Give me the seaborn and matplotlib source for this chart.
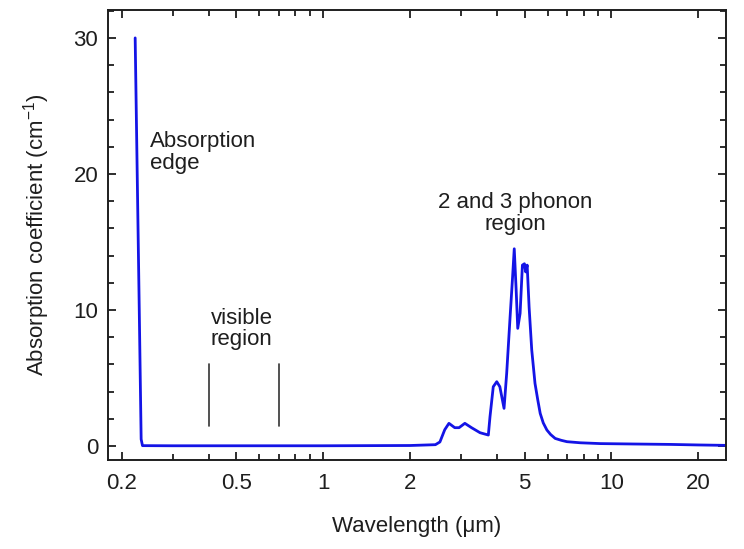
# ==============================
# Absorption coefficient vs wavelength
# ==============================
import numpy as np
import pandas as pd
import matplotlib
matplotlib.use("Agg")
import matplotlib.pyplot as plt
import matplotlib.ticker as mticker
import seaborn as sns

# ------------------------------
# Data
# ------------------------------
wavelength = [0.2226, 0.2300, 0.2335, 0.2360, 0.30, 0.5, 1.0, 2.0, 2.45, 2.54,
              2.64, 2.73, 2.86, 2.96, 3.10, 3.27, 3.50, 3.74, 3.79, 3.89,
              4.00, 4.10, 4.24, 4.33, 4.45, 4.54, 4.60, 4.67, 4.73, 4.82,
              4.91, 4.99, 5.04, 5.10, 5.18, 5.29, 5.43, 5.55, 5.66, 5.80,
              5.97, 6.15, 6.38, 6.70, 7.01, 7.80, 9.16, 12.0, 16.0, 20.0,
              25.0]
absorption = [30.0, 10.0, 0.5, 0.03, 0.02, 0.02, 0.02, 0.04, 0.1, 0.3,
              1.2, 1.67, 1.35, 1.35, 1.67, 1.35, 0.98, 0.81, 2.16, 4.36,
              4.73, 4.36, 2.77, 5.34, 9.5, 12.45, 14.5, 11.5, 8.65, 9.75,
              13.3, 13.4, 12.8, 13.3, 10.2, 7.06, 4.6, 3.4, 2.4, 1.7,
              1.18, 0.85, 0.56, 0.42, 0.32, 0.24, 0.18, 0.15, 0.12, 0.08,
              0.05]

df = pd.DataFrame({"wavelength": wavelength, "absorption": absorption})

major_xticks = [0.2, 0.5, 1, 2, 5, 10, 20]
major_xlabels = ["0.2", "0.5", "1", "2", "5", "10", "20"]
yticks = [0, 10, 20, 30]

# visible region markers (0.4 and 0.7 um)
visible_edges = [0.4, 0.7]

# ------------------------------
# Style
# ------------------------------
sns.set_theme(style="ticks")
plt.rcParams["font.family"] = ["Liberation Sans", "DejaVu Sans"]
plt.rcParams["mathtext.fontset"] = "custom"
plt.rcParams["mathtext.rm"] = "Liberation Sans"
plt.rcParams["mathtext.it"] = "Liberation Sans:italic"
text_color = "#1e1e1e"
fs = 16

fig = plt.figure(figsize=(7.44, 5.49), dpi=100)
ax = fig.add_axes([0.145, 0.162, 0.831, 0.820])

sns.lineplot(data=df, x="wavelength", y="absorption", ax=ax,
             color="#1414e6", linewidth=2.0, estimator=None, sort=False)

ax.set_xscale("log")
ax.set_xlim(0.179, 25)
ax.set_ylim(-1.03, 32.06)

ax.xaxis.set_major_locator(mticker.FixedLocator(major_xticks))
ax.xaxis.set_major_formatter(mticker.FixedFormatter(major_xlabels))
ax.xaxis.set_minor_locator(mticker.LogLocator(base=10, subs=np.arange(2, 10)))
ax.xaxis.set_minor_formatter(mticker.NullFormatter())
ax.yaxis.set_major_locator(mticker.FixedLocator(yticks))
ax.yaxis.set_minor_locator(mticker.MultipleLocator(2))

ax.tick_params(which="both", direction="in", top=True, right=True,
               color=text_color, width=1.3)
ax.tick_params(which="major", length=6, labelsize=fs, labelcolor=text_color)
ax.tick_params(axis="x", which="major", pad=9)
ax.tick_params(axis="y", which="major", pad=7)
ax.tick_params(which="minor", length=4)

for spine in ax.spines.values():
    spine.set_linewidth(1.4)
    spine.set_color(text_color)

ax.set_xlabel("Wavelength (\u03bcm)", fontsize=fs, color=text_color)
ax.set_ylabel("Absorption coefficient (cm$^{-1}$)", fontsize=fs,
              color=text_color)
ax.xaxis.set_label_coords(0.5, -0.124)
ax.yaxis.set_label_coords(-0.09, 0.5)

# visible region markers
for w in visible_edges:
    ax.plot([w, w], [1.5, 6.0], color="#333333", linewidth=1.2)

# annotations
ax.text(0.251, 21.6, "Absorption\nedge", fontsize=fs, color=text_color,
        ha="left", va="center", linespacing=1.05)
ax.text(0.522, 8.6, "visible\nregion", fontsize=fs, color=text_color,
        ha="center", va="center", linespacing=1.05)
ax.text(4.65, 17.1, "2 and 3 phonon\nregion", fontsize=fs, color=text_color,
        ha="center", va="center", linespacing=1.05)

fig.savefig("out.png", dpi=100)
